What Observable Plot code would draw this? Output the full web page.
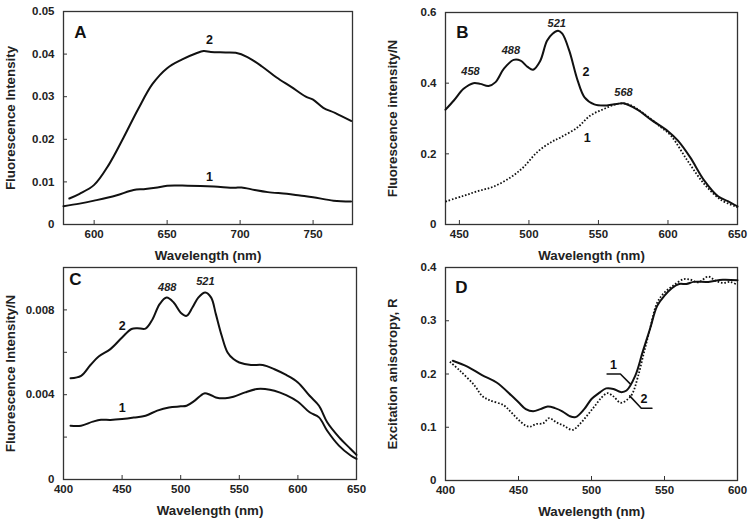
<!DOCTYPE html>
<html>
<head>
<meta charset="utf-8">
<script src="https://cdn.jsdelivr.net/npm/d3@7"></script>
<script src="https://cdn.jsdelivr.net/npm/@observablehq/plot@0.6"></script>
<style>
  html, body { margin: 0; padding: 0; background: #fff; }
  #wrap { position: relative; width: 753px; height: 524px; overflow: hidden; }
  .panel { position: absolute; }
  svg { overflow: visible; }
</style>
</head>
<body>
<div id="wrap"></div>
<script>
// ---------- Panel A data ----------
const aCurve2 = [[583,0.0061],[590,0.0072],[600,0.0093],[610,0.0140],[620,0.0203],[630,0.0270],[640,0.0330],[650,0.0367],[660,0.0387],[670,0.0402],[675,0.0407],[680,0.0405],[690,0.0404],[697,0.0403],[705,0.0393],[715,0.0371],[725,0.0345],[735,0.0323],[745,0.0300],[750,0.0293],[757,0.0274],[765,0.0262],[776,0.0243]];
const aCurve1 = [[579,0.0043],[590,0.0049],[600,0.0056],[615,0.0068],[627,0.0081],[634,0.0083],[642,0.0086],[650,0.0091],[664,0.0091],[682,0.0089],[696,0.0086],[701,0.0087],[710,0.0081],[719,0.0076],[732,0.0072],[741,0.0068],[750,0.0064],[764,0.0056],[776,0.0054]];
const aXTicks = [600, 650, 700, 750];
const aYTicks = [0, 0.01, 0.02, 0.03, 0.04, 0.05];
const aLabels = [[679, 0.0432, "2"], [679, 0.0111, "1"]];

// ---------- Panel B data ----------
const bCurve2 = [[440,0.325],[446,0.351],[453,0.384],[460,0.400],[465,0.398],[471,0.392],[476,0.403],[482,0.441],[489,0.466],[494,0.464],[499,0.446],[503,0.438],[508,0.462],[513,0.520],[517,0.540],[521,0.548],[524,0.540],[529,0.492],[535,0.408],[540,0.360],[547,0.340],[556,0.337],[563,0.341],[568,0.343],[578,0.325],[588,0.296],[600,0.264],[607,0.238],[616,0.190],[626,0.125],[636,0.080],[643,0.066],[650,0.051]];
const bCurve1 = [[440,0.065],[452,0.080],[463,0.094],[475,0.108],[487,0.134],[496,0.162],[506,0.205],[516,0.233],[523,0.247],[535,0.275],[544,0.308],[554,0.327],[563,0.341],[571,0.341],[583,0.313],[595,0.275],[602,0.252],[614,0.181],[626,0.115],[638,0.070],[650,0.049]];
const bXTicks = [450, 500, 550, 600, 650];
const bYTicks = [0, 0.2, 0.4, 0.6];
const bCurveLabels = [[541, 0.433, "2"], [542, 0.244, "1"]];
const bPeakLabels = [[458, 0.433, "458"], [487, 0.492, "488"], [520, 0.570, "521"], [568, 0.373, "568"]];

// ---------- Panel C data ----------
const cCurve2 = [[406,0.00478],[415,0.00489],[423,0.0054],[430,0.0058],[440,0.00615],[450,0.0067],[458,0.0071],[463,0.00714],[470,0.00712],[476,0.00756],[482,0.00827],[488,0.00858],[494,0.00835],[500,0.00787],[505,0.00772],[510,0.00811],[515,0.00858],[521,0.00882],[526,0.00858],[530,0.0078],[535,0.00678],[540,0.00599],[545,0.00568],[550,0.00552],[560,0.0054],[570,0.0054],[580,0.0052],[590,0.00493],[600,0.00458],[610,0.00395],[618,0.00348],[625,0.0027],[635,0.0020],[645,0.00144],[650,0.00116]];
const cCurve1 = [[406,0.00254],[415,0.00254],[425,0.00273],[432,0.00282],[440,0.00281],[450,0.00285],[460,0.00292],[470,0.00301],[480,0.00325],[490,0.0034],[500,0.00345],[505,0.00348],[512,0.00372],[520,0.00406],[525,0.0040],[530,0.00387],[538,0.00383],[545,0.0039],[555,0.00411],[565,0.00427],[572,0.00427],[580,0.00419],[590,0.00398],[600,0.00367],[610,0.00317],[618,0.00293],[625,0.0023],[635,0.0016],[645,0.00113],[650,0.00097]];
const cXTicks = [400, 450, 500, 550, 600, 650];
const cYTicks = [0, 0.002, 0.004, 0.006, 0.008, 0.01];
const cYLabeled = [0, 0.004, 0.008];
const cCurveLabels = [[450, 0.00725, "2"], [450, 0.00337, "1"]];
const cPeakLabels = [[488.5, 0.00905, "488"], [521, 0.00936, "521"]];

// ---------- Panel D data ----------
const dCurve1 = [[405,0.225],[415,0.214],[425,0.198],[435,0.184],[445,0.160],[450,0.147],[455,0.134],[460,0.130],[465,0.134],[470,0.139],[475,0.136],[480,0.130],[485,0.121],[489,0.119],[495,0.134],[500,0.153],[505,0.164],[510,0.173],[515,0.172],[520,0.166],[524,0.169],[530,0.197],[535,0.241],[540,0.284],[545,0.328],[550,0.347],[555,0.361],[560,0.369],[565,0.369],[570,0.373],[580,0.373],[590,0.377],[600,0.376]];
const dCurve2 = [[403,0.223],[410,0.206],[420,0.178],[425,0.159],[430,0.151],[440,0.141],[445,0.128],[450,0.114],[455,0.103],[458,0.101],[462,0.106],[467,0.1075],[471,0.117],[476,0.109],[481,0.103],[487,0.095],[492,0.106],[497,0.122],[502,0.139],[507,0.156],[511,0.164],[515,0.158],[520,0.146],[525,0.153],[528,0.163],[532,0.197],[536,0.241],[540,0.284],[545,0.334],[550,0.353],[556,0.366],[563,0.378],[568,0.377],[573,0.372],[580,0.383],[585,0.375],[590,0.371],[595,0.373],[600,0.367]];
const dXTicks = [400, 450, 500, 550, 600];
const dYTicks = [0, 0.1, 0.2, 0.3, 0.4];
const dCurveLabels = [[515, 0.216, "1"], [536, 0.153, "2"]];
const dLeader1 = [[510.7, 0.200], [519.8, 0.200], [526.7, 0.181]];
const dLeader2 = [[541.4, 0.1356], [534.1, 0.1356], [526.2, 0.159]];

const xTitle = "Wavelength (nm)";
const FONT = "'Liberation Sans', Arial, Helvetica, sans-serif";
const fmt = d => d === 0 ? "0" : String(d);

function panel(cfg) {
  const marks = [
    Plot.frame({stroke: "#333", strokeWidth: 1.3}),
    Plot.axisX({ticks: cfg.xTicks, tickSize: -4, tickPadding: 9, tickFormat: fmt, label: null, fontSize: 11.5, stroke: "#333"}),
    Plot.axisY({ticks: cfg.yTicks, tickSize: -4, tickPadding: 13, tickFormat: cfg.yFormat || fmt, label: null, fontSize: 11.5, stroke: "#333"}),
    Plot.text([xTitle], {frameAnchor: "bottom", dy: 31, fontSize: 13.3, textAnchor: "middle", lineAnchor: "middle", fill: "#222"}),
    Plot.text([cfg.yTitle], {frameAnchor: "left", dx: -53, rotate: -90, fontSize: 13.3, textAnchor: "middle", lineAnchor: "middle", fill: "#222"}),
    Plot.text([cfg.letter], {frameAnchor: "top-left", dx: cfg.letterDx, dy: cfg.letterDy, fontSize: 17, textAnchor: "middle", lineAnchor: "middle", fill: "#111"})
  ];
  for (const s of cfg.series) {
    marks.push(Plot.line(s.data, {x: d => d[0], y: d => d[1], curve: "catmull-rom", stroke: "#111",
      strokeWidth: s.dotted ? 1.8 : 2,
      strokeDasharray: s.dotted ? "1.6,1.8" : null,
      strokeLinecap: s.dotted ? "butt" : "round"}));
  }
  for (const l of (cfg.leaders || [])) {
    marks.push(Plot.line(l, {x: d => d[0], y: d => d[1], stroke: "#111", strokeWidth: 1.6}));
  }
  if (cfg.curveLabels) marks.push(Plot.text(cfg.curveLabels, {x: d => d[0], y: d => d[1], text: d => d[2], fontSize: 12.5, fill: "#111"}));
  if (cfg.peakLabels) marks.push(Plot.text(cfg.peakLabels, {x: d => d[0], y: d => d[1], text: d => d[2], fontSize: 11, fontStyle: "italic", fill: "#222"}));
  const p = Plot.plot({
    width: cfg.width, height: 262,
    marginLeft: cfg.mL, marginRight: cfg.mR, marginTop: cfg.mT, marginBottom: cfg.mB,
    x: {domain: cfg.xDomain},
    y: {domain: cfg.yDomain},
    style: {fontFamily: FONT, fontWeight: "bold", color: "#222", background: "transparent"},
    marks
  });
  const div = document.createElement("div");
  div.className = "panel";
  div.style.left = cfg.left + "px";
  div.style.top = cfg.top + "px";
  div.appendChild(p);
  document.getElementById("wrap").appendChild(div);
}

panel({left: 0, top: 0, width: 377, mL: 63, mR: 25, mT: 11, mB: 38,
  xDomain: [579, 777], yDomain: [0, 0.05], xTicks: aXTicks, yTicks: aYTicks,
  yTitle: "Fluorescence Intensity", letter: "A", letterDx: 17, letterDy: 21,
  series: [{data: aCurve2}, {data: aCurve1}], curveLabels: aLabels});

panel({left: 377, top: 0, width: 376, mL: 68, mR: 16, mT: 12, mB: 38,
  xDomain: [440, 650], yDomain: [0, 0.6], xTicks: bXTicks, yTicks: bYTicks,
  yTitle: "Fluorescence intensity/N", letter: "B", letterDx: 17, letterDy: 20,
  series: [{data: bCurve2}, {data: bCurve1, dotted: true}], curveLabels: bCurveLabels, peakLabels: bPeakLabels});

panel({left: 0, top: 262, width: 377, mL: 63, mR: 21, mT: 5, mB: 45,
  xDomain: [400, 650], yDomain: [0, 0.01], xTicks: cXTicks, yTicks: cYTicks,
  yFormat: d => cYLabeled.includes(d) ? fmt(d) : "",
  yTitle: "Fluorescence Intensity/N", letter: "C", letterDx: 12, letterDy: 12,
  series: [{data: cCurve2}, {data: cCurve1}], curveLabels: cCurveLabels, peakLabels: cPeakLabels});

panel({left: 377, top: 262, width: 376, mL: 68, mR: 16, mT: 5, mB: 44,
  xDomain: [400, 600], yDomain: [0, 0.4], xTicks: dXTicks, yTicks: dYTicks,
  yTitle: "Excitation anisotropy, R", letter: "D", letterDx: 16, letterDy: 20,
  series: [{data: dCurve1}, {data: dCurve2, dotted: true}], curveLabels: dCurveLabels, leaders: [dLeader1, dLeader2]});
</script>
</body>
</html>
